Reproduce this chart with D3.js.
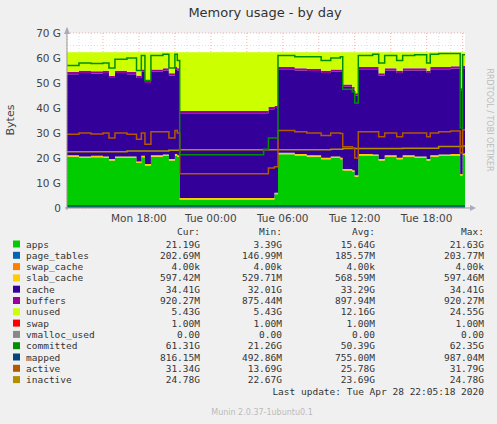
<!DOCTYPE html>
<html><head><meta charset="utf-8">
<script src="https://cdn.jsdelivr.net/npm/d3@7"></script>
<style>body{margin:0;background:#f0f0f0}svg{display:block;font-family:"DejaVu Sans",sans-serif}</style>
</head><body><svg id="c" width="497" height="424"></svg>
<script>
// hours since Mon 12:00
const hours =   [0,1,2,3,3.5,4,5,5.8,6.2,6.5,7,8,8.5,9,9.2,9.4,16.4,16.8,17.3,17.6,19,20,21.2,22,22.8,23,23.8,24,24.3,25.5,26,26.5,27.5,28,29,30,30.3,31,32,32.8,33,33.2];
const appsTop = [20.5,20,20.3,20,19,20,20,18,20.3,17,20.5,20.8,19,21,20.5,3.4,3.4,3.4,5.5,21.5,21,20.5,19.5,20,19.5,15,14.5,12.5,21,20.8,19,20.5,19.5,20.5,20,19,20.5,20.8,21,13,21.2,21.2];
const cacheTop = [53.5,54,53.8,54,52,54,53.5,52,54.5,50,54.5,55,53,55.5,55,37.9,37.9,39.5,40,55.5,55,54.8,54,54.5,54.5,48.5,47.5,45,55.5,55.5,53,55,54,55,55,54,55.5,55.5,55.8,47,55.9,55.9];
const committed = [57,58,57.8,58,56,59.5,60,55,61,51,61,61.5,56,61.5,59,21.3,23.5,28,28,61,60.5,60.5,59,60,60.5,47.5,46.5,42,61,61.5,58,61,59,61,61.3,58,61.5,61.8,61.8,32,61.3,61.3];
const active = [29.5,30,29.6,30,28,30,29.5,27.5,30,25.5,30.5,30.5,28,31,30,13.7,13.7,16,16.5,31,30.5,30,29,30,29.8,24.5,24,20,30.5,30.5,28.5,30,28.5,30,30,28.5,30,30.5,30.8,22,31.3,31.3];
const inactive = [22.5,22.5,22.5,22.5,22.5,22.5,22.8,22.8,22.8,22.8,22.8,22.8,23.1,23.1,23.1,23.3,23.3,23.3,23.3,23.3,23.3,23.3,23.3,23.5,23.5,23.8,23.8,23.8,23.8,23.8,23.8,23.8,23.8,23.9,23.9,23.9,23.9,24.6,24.6,24.6,24.8,24.8];
const memTotal = 62.3, pageTables = 0.2, slab = 0.6, buffers = 0.9, mapped = 0.8;

const legendRows = [
 ["apps","#00cc00","21.19G","3.39G","15.64G","21.63G"],
 ["page_tables","#0066b3","202.69M","146.99M","185.57M","203.77M"],
 ["swap_cache","#ff8000","4.00k","4.00k","4.00k","4.00k"],
 ["slab_cache","#ffcc00","597.42M","529.71M","568.59M","597.46M"],
 ["cache","#330099","34.41G","32.01G","33.29G","34.41G"],
 ["buffers","#990099","920.27M","875.44M","897.94M","920.27M"],
 ["unused","#ccff00","5.43G","5.43G","12.16G","24.55G"],
 ["swap","#ff0000","1.00M","1.00M","1.00M","1.00M"],
 ["vmalloc_used","#888888","0.00","0.00","0.00","0.00"],
 ["committed","#008f00","61.31G","21.26G","50.39G","62.35G"],
 ["mapped","#00487d","816.15M","492.86M","755.00M","987.04M"],
 ["active","#b35a00","31.34G","13.69G","25.78G","31.79G"],
 ["inactive","#b38f00","24.78G","22.67G","23.69G","24.78G"]];
const yTicks = [0,10,20,30,40,50,60,70];
const xTicks = [[6,"Mon 18:00"],[12,"Tue 00:00"],[18,"Tue 06:00"],[24,"Tue 12:00"],[30,"Tue 18:00"]];

const svg = d3.select("#c");
const x = d3.scaleLinear().domain([0,33.2]).range([67,465]);
const y = d3.scaleLinear().domain([0,70]).range([208,33]);

svg.append("text").attr("x",265).attr("y",17).attr("text-anchor","middle").attr("font-size",13).attr("fill","#333").text("Memory usage - by day");
svg.append("rect").attr("x",67).attr("y",33).attr("width",398).attr("height",175).attr("fill","#fff");

// grid
const g = svg.append("g");
d3.range(0,34,1).forEach(h=>g.append("line").attr("x1",x(h)).attr("x2",x(h)).attr("y1",33).attr("y2",208)
  .attr("stroke",h%3==0?"#f08080":"#ccc").attr("stroke-dasharray","1,2").attr("stroke-width",0.6));
d3.range(0,71,5).forEach(v=>g.append("line").attr("x1",67).attr("x2",465).attr("y1",y(v)).attr("y2",y(v))
  .attr("stroke",v%10==0?"#f08080":"#ccc").attr("stroke-dasharray","1,2").attr("stroke-width",0.6));

const idx = d3.range(hours.length);
const area = (lo,hi,col)=>svg.append("path").attr("fill",col)
  .attr("d",d3.area().curve(d3.curveStepAfter).x(i=>x(hours[i])).y0(i=>y(lo(i))).y1(i=>y(hi(i)))(idx));
area(i=>0,i=>appsTop[i],"#00cc00");
area(i=>0,i=>pageTables,"#0066b3");
area(i=>appsTop[i],i=>appsTop[i]+slab,"#ffcc00");
area(i=>appsTop[i]+slab,i=>cacheTop[i],"#330099");
area(i=>cacheTop[i],i=>cacheTop[i]+buffers,"#990099");
area(i=>cacheTop[i]+buffers,i=>memTotal,"#ccff00");
const line = (vals,col)=>svg.append("path").attr("fill","none").attr("stroke",col).attr("stroke-width",1.5)
  .attr("d",d3.line().curve(d3.curveStepAfter).x(i=>x(hours[i])).y(i=>y(vals(i)))(idx));
line(i=>mapped,"#00487d");
line(i=>inactive[i],"#b38f00");
line(i=>active[i],"#b35a00");
line(i=>committed[i],"#008f00");

// axes
svg.append("line").attr("x1",65).attr("x2",470).attr("y1",208).attr("y2",208).attr("stroke","#999");
svg.append("line").attr("x1",67).attr("x2",67).attr("y1",28).attr("y2",210).attr("stroke","#999");
svg.append("path").attr("d","M470,205L476,208L470,211Z").attr("fill","#aab");
svg.append("path").attr("d","M64,34L67,27L70,34Z").attr("fill","#aab");
yTicks.forEach(v=>svg.append("text").attr("x",61).attr("y",y(v)+4).attr("text-anchor","end").attr("font-size",10.5).attr("fill","#444").text(v?v+" G":"0"));
xTicks.forEach(([h,l])=>svg.append("text").attr("x",x(h)).attr("y",222).attr("text-anchor","middle").attr("font-size",10.5).attr("fill","#444").text(l));
svg.append("text").attr("transform","translate(14,120) rotate(-90)").attr("text-anchor","middle").attr("font-size",11).attr("fill","#444").text("Bytes");
svg.append("text").attr("transform","translate(487,120) rotate(90)").attr("text-anchor","middle").attr("font-size",8).attr("fill","#bbb").text("RRDTOOL / TOBI OETIKER");

// legend
const mono = "'DejaVu Sans Mono',monospace";
const colX = [200,282,375,484];
["Cur:","Min:","Avg:","Max:"].forEach((t,j)=>svg.append("text").attr("x",colX[j]).attr("y",235).attr("text-anchor","end").attr("font-family",mono).attr("font-size",9.5).attr("fill","#333").text(t));
legendRows.forEach((r,i)=>{
  const yy = 247.5+i*11.3;
  svg.append("rect").attr("x",13).attr("y",yy-7).attr("width",7).attr("height",7).attr("fill",r[1]);
  svg.append("text").attr("x",26).attr("y",yy).attr("font-family",mono).attr("font-size",9.5).attr("fill","#333").text(r[0]);
  r.slice(2).forEach((v,j)=>svg.append("text").attr("x",colX[j]).attr("y",yy).attr("text-anchor","end").attr("font-family",mono).attr("font-size",9.5).attr("fill","#333").text(v));
});
svg.append("text").attr("x",484).attr("y",395).attr("text-anchor","end").attr("font-family",mono).attr("font-size",9.5).attr("fill","#333").text("Last update: Tue Apr 28 22:05:18 2020");
svg.append("text").attr("x",262).attr("y",415).attr("text-anchor","middle").attr("font-size",8).attr("fill","#bbb").text("Munin 2.0.37-1ubuntu0.1");
</script></body></html>
